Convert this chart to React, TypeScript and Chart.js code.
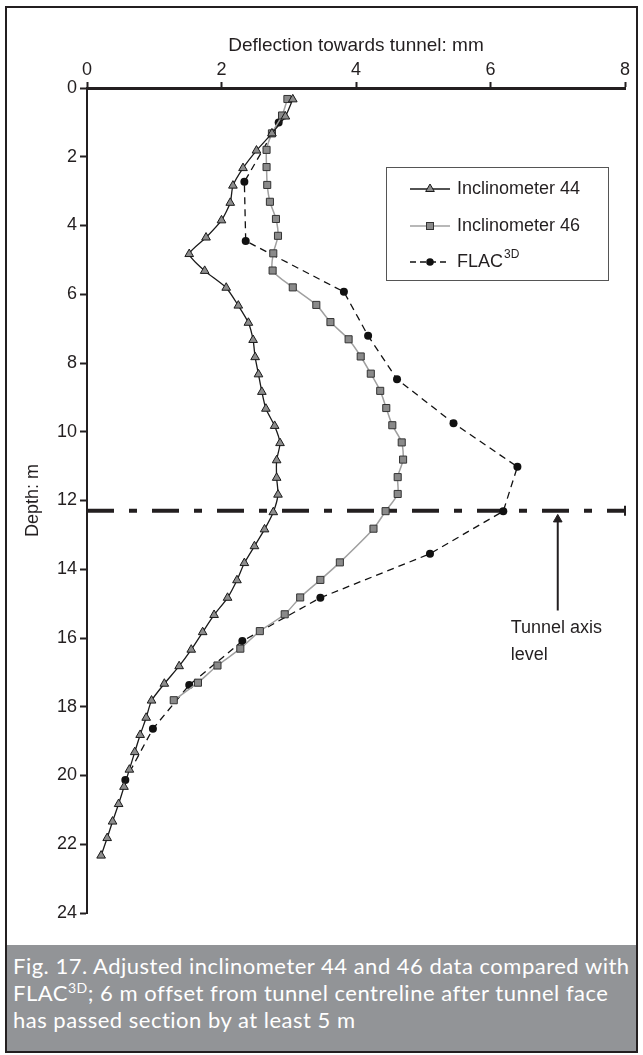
import React, { useEffect, useRef } from "react";
import { Chart, registerables } from "chart.js";

Chart.register(...registerables);

// ---- Data ----
const seriesLabels = ["Inclinometer 44", "Inclinometer 46", "FLAC"];

// Inclinometer 44: depth (m) and deflection (mm)
const depth44 = [0.33, 0.83, 1.32, 1.82, 2.33, 2.84, 3.34, 3.85, 4.35, 4.83, 5.32, 5.81, 6.33, 6.83, 7.33, 7.83, 8.33, 8.84, 9.33, 9.83, 10.33, 10.83, 11.34, 11.83, 12.34, 12.84, 13.33, 13.82, 14.32, 14.83, 15.33, 15.83, 16.34, 16.82, 17.33, 17.82, 18.32, 18.82, 19.32, 19.83, 20.33, 20.83, 21.34, 21.82, 22.33];
const defl44 = [3.06, 2.95, 2.75, 2.52, 2.32, 2.17, 2.13, 2.0, 1.77, 1.52, 1.75, 2.07, 2.25, 2.4, 2.47, 2.5, 2.55, 2.6, 2.66, 2.79, 2.87, 2.82, 2.82, 2.84, 2.77, 2.64, 2.49, 2.34, 2.23, 2.09, 1.89, 1.72, 1.55, 1.37, 1.15, 0.96, 0.88, 0.79, 0.71, 0.63, 0.55, 0.47, 0.38, 0.3, 0.21];

// Inclinometer 46
const depth46 = [0.32, 0.8, 1.32, 1.8, 2.3, 2.82, 3.31, 3.81, 4.3, 4.81, 5.31, 5.8, 6.31, 6.81, 7.31, 7.81, 8.31, 8.81, 9.31, 9.81, 10.31, 10.81, 11.32, 11.81, 12.31, 12.82, 13.8, 14.31, 14.82, 15.31, 15.8, 16.31, 16.8, 17.3, 17.81];
const defl46 = [2.98, 2.9, 2.75, 2.67, 2.67, 2.68, 2.72, 2.81, 2.84, 2.77, 2.76, 3.06, 3.41, 3.62, 3.89, 4.07, 4.22, 4.36, 4.45, 4.54, 4.68, 4.7, 4.62, 4.62, 4.44, 4.26, 3.76, 3.47, 3.17, 2.94, 2.57, 2.28, 1.94, 1.65, 1.29];

// FLAC3D
const depthFlac = [1.0, 2.73, 4.45, 5.93, 7.21, 8.47, 9.75, 11.02, 12.31, 13.55, 14.83, 16.09, 17.37, 18.64, 20.13];
const deflFlac = [2.85, 2.34, 2.36, 3.82, 4.18, 4.61, 5.45, 6.4, 6.19, 5.1, 3.47, 2.31, 1.52, 0.98, 0.57];

// Axes
const xMin = 0, xMax = 8, xStep = 2;
const yMin = 0, yMax = 24, yStep = 2;
const xTitle = "Deflection towards tunnel: mm";
const yTitle = "Depth: m";

// Tunnel axis level annotation
const tunnelAxisDepth = 12.3;
const tunnelAxisSpan = [0, 8];
const arrowX = 7;
const arrowDepths = [15.2, 12.55];
const noteX = 6.3;
const noteLines = ["Tunnel axis", "level"];
const noteDepths = [15.7, 16.5];

const INK = "#231f20";
const FONT = '"Liberation Sans", Arial, sans-serif';

const annotPlugin = {
  id: "annot",
  afterDraw(chart: any) {
    const { ctx, chartArea, scales } = chart;
    ctx.save();
    // legend box
    const bx = chartArea.left + 299;
    const by = chartArea.top + 79;
    const bw = 222;
    const bh = 113;
    ctx.strokeStyle = "#555";
    ctx.lineWidth = 1;
    ctx.strokeRect(bx + 0.5, by + 0.5, bw, bh);
    const rows = [by + 22, by + 59, by + 95];
    const lx0 = bx + 24, lx1 = bx + 64, mx = bx + 44, tx = bx + 71;
    ctx.font = "18px " + FONT;
    ctx.textBaseline = "middle";
    ctx.textAlign = "left";
    // row 1
    ctx.setLineDash([]);
    ctx.strokeStyle = "#1a1a1a";
    ctx.lineWidth = 1.3;
    ctx.beginPath();
    ctx.moveTo(lx0, rows[0]);
    ctx.lineTo(lx1, rows[0]);
    ctx.stroke();
    const r = 5;
    ctx.beginPath();
    ctx.moveTo(mx, rows[0] - r);
    ctx.lineTo(mx + r * 0.866, rows[0] + r * 0.5);
    ctx.lineTo(mx - r * 0.866, rows[0] + r * 0.5);
    ctx.closePath();
    ctx.fillStyle = "#8c8c8c";
    ctx.fill();
    ctx.lineWidth = 1;
    ctx.stroke();
    ctx.fillStyle = INK;
    ctx.fillText(seriesLabels[0], tx, rows[0]);
    // row 2
    ctx.strokeStyle = "#a0a0a0";
    ctx.lineWidth = 1.5;
    ctx.beginPath();
    ctx.moveTo(lx0, rows[1]);
    ctx.lineTo(lx1, rows[1]);
    ctx.stroke();
    ctx.fillStyle = "#8a8a8a";
    ctx.strokeStyle = "#333";
    ctx.lineWidth = 1;
    ctx.fillRect(mx - 3.5, rows[1] - 3.5, 7, 7);
    ctx.strokeRect(mx - 3.5, rows[1] - 3.5, 7, 7);
    ctx.fillStyle = INK;
    ctx.fillText(seriesLabels[1], tx, rows[1]);
    // row 3
    ctx.strokeStyle = "#111";
    ctx.lineWidth = 1.3;
    ctx.setLineDash([6, 4]);
    ctx.beginPath();
    ctx.moveTo(lx0, rows[2]);
    ctx.lineTo(lx1, rows[2]);
    ctx.stroke();
    ctx.setLineDash([]);
    ctx.fillStyle = "#111";
    ctx.beginPath();
    ctx.arc(mx, rows[2], 3.8, 0, Math.PI * 2);
    ctx.fill();
    ctx.fillStyle = INK;
    ctx.fillText(seriesLabels[2], tx, rows[2]);
    const w = ctx.measureText(seriesLabels[2]).width;
    ctx.font = "12px " + FONT;
    ctx.fillText("3D", tx + w + 1, rows[2] - 7);

    // tunnel axis note
    ctx.font = "18px " + FONT;
    const nx = scales.x.getPixelForValue(noteX);
    noteLines.forEach((t, i) => {
      ctx.fillText(t, nx, scales.y.getPixelForValue(noteDepths[i]));
    });
    ctx.restore();
  },
};

export default function App() {
  const ref = useRef<HTMLCanvasElement>(null);

  useEffect(() => {
    const canvas = ref.current!;
    const chart = new Chart(canvas, {
      type: "line",
      data: {
        datasets: [
          {
            label: seriesLabels[0],
            data: depth44.map((d, i) => ({ x: defl44[i], y: d })),
            borderColor: "#1a1a1a",
            borderWidth: 1.3,
            pointStyle: "triangle",
            pointRadius: 5,
            pointBackgroundColor: "#8c8c8c",
            pointBorderColor: "#1a1a1a",
            pointBorderWidth: 1,
            tension: 0.2,
            clip: false,
          },
          {
            label: seriesLabels[1],
            data: depth46.map((d, i) => ({ x: defl46[i], y: d })),
            borderColor: "#a0a0a0",
            borderWidth: 1.5,
            pointStyle: "rect",
            pointRadius: 5,
            pointBackgroundColor: "#8a8a8a",
            pointBorderColor: "#333",
            pointBorderWidth: 1,
            tension: 0.25,
            clip: false,
          },
          {
            label: seriesLabels[2],
            data: depthFlac.map((d, i) => ({ x: deflFlac[i], y: d })),
            borderColor: "#111",
            borderWidth: 1.3,
            borderDash: [7, 5],
            pointStyle: "circle",
            pointRadius: 4,
            pointBackgroundColor: "#111",
            pointBorderColor: "#111",
            pointBorderWidth: 0,
            tension: 0,
            clip: false,
          },
          {
            label: "Tunnel axis level",
            data: tunnelAxisSpan.map((x) => ({ x, y: tunnelAxisDepth })),
            borderColor: INK,
            borderWidth: 4,
            borderDash: [27, 15, 8, 15],
            pointStyle: "line",
            pointRotation: 90,
            pointRadius: [0, 5],
            pointBorderColor: INK,
            pointBorderWidth: 2,
            tension: 0,
            clip: false,
          },
          {
            label: "arrow",
            data: arrowDepths.map((d) => ({ x: arrowX, y: d })),
            borderColor: INK,
            borderWidth: 2,
            pointStyle: "triangle",
            pointRadius: [0, 5],
            pointBackgroundColor: INK,
            pointBorderColor: INK,
            pointBorderWidth: 1,
            tension: 0,
            clip: false,
          },
        ],
      },
      options: {
        responsive: false,
        animation: false,
        devicePixelRatio: 1,
        events: [],
        indexAxis: "y",
        layout: { padding: { left: 0, top: 0, right: 11, bottom: 32 } },
        plugins: {
          legend: { display: false },
          tooltip: { enabled: false },
        },
        scales: {
          x: {
            type: "linear",
            position: "top",
            min: xMin,
            max: xMax,
            ticks: {
              stepSize: xStep,
              color: INK,
              font: { family: FONT, size: 18 },
              padding: 1,
            },
            grid: {
              display: true,
              drawOnChartArea: false,
              drawTicks: true,
              tickLength: 6,
              tickWidth: 2,
              tickColor: INK,
            },
            border: { display: true, color: INK, width: 3 },
            title: {
              display: true,
              text: xTitle,
              color: INK,
              font: { family: FONT, size: 19 },
              padding: { top: 26, bottom: 0 },
            },
            afterFit: (s: any) => {
              s.height = 80;
            },
          },
          y: {
            type: "linear",
            position: "left",
            reverse: true,
            min: yMin,
            max: yMax,
            ticks: {
              stepSize: yStep,
              color: INK,
              font: { family: FONT, size: 18 },
              padding: 3,
            },
            grid: {
              display: true,
              drawOnChartArea: false,
              drawTicks: true,
              tickLength: 7,
              tickWidth: 2,
              tickColor: INK,
            },
            border: { display: true, color: INK, width: 2 },
            title: {
              display: true,
              text: yTitle,
              color: INK,
              font: { family: FONT, size: 18 },
              padding: { top: 15, bottom: 0 },
            },
            afterFit: (s: any) => {
              s.width = 80;
            },
          },
        },
      } as any,
      plugins: [annotPlugin],
    });
    return () => chart.destroy();
  }, []);

  return (
    <div
      style={{
        position: "absolute",
        left: 5,
        top: 6,
        width: 633,
        height: 1047,
        border: "2px solid " + INK,
        boxSizing: "border-box",
        background: "#fff",
      }}
    >
      <canvas ref={ref} width={629} height={937} style={{ display: "block", width: 629, height: 937 }} />
      <div
        style={{
          height: 106,
          background: "#929497",
          color: "#fff",
          fontFamily: 'Lato, "Open Sans", sans-serif',
          fontSize: 22,
          letterSpacing: 0.5,
          lineHeight: "27px",
          padding: "7px 6px 0 6px",
          boxSizing: "border-box",
          whiteSpace: "nowrap",
        }}
      >
        Fig. 17. Adjusted inclinometer 44 and 46 data compared with
        <br />
        FLAC
        <span style={{ fontSize: 14, position: "relative", top: -8, lineHeight: 0 }}>3D</span>; 6 m offset from tunnel centreline after tunnel face
        <br />
        has passed section by at least 5 m
      </div>
    </div>
  );
}
